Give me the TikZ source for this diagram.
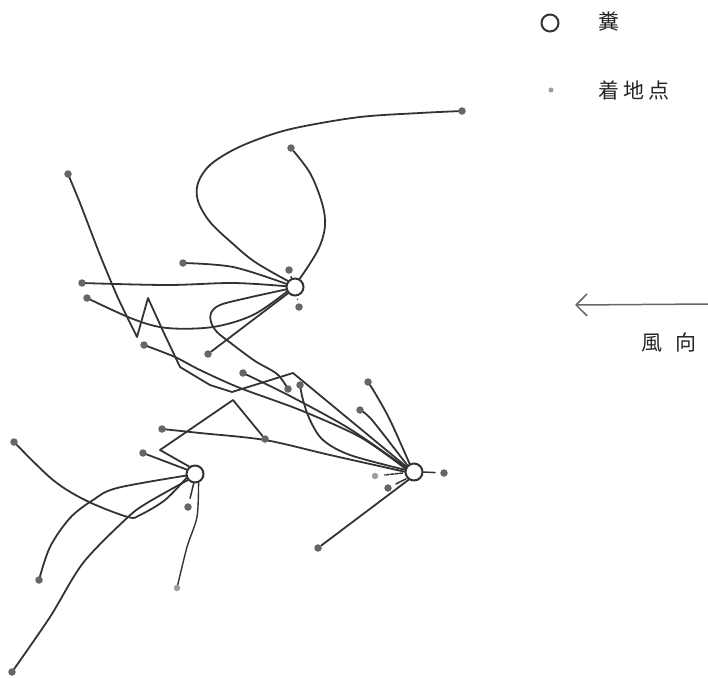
\documentclass[tikz,border=0pt]{standalone}
\usepackage{fontspec}
\newfontfamily\jp{Noto Sans CJK JP}
\usetikzlibrary{arrows.meta}
\pgfdeclarelayer{bg}
\pgfsetlayers{bg,main}
\definecolor{ink}{gray}{0.2}
\definecolor{dotgray}{gray}{0.4}
\definecolor{lightdot}{gray}{0.62}
\begin{document}
\begin{tikzpicture}[x=1pt,y=-1pt,
  dung/.style={circle, draw=ink, line width=2pt, minimum size=17pt, inner sep=0pt, fill=white},
  land/.style={circle, fill=dotgray, minimum size=7.5pt, inner sep=0pt},
  lightland/.style={circle, fill=lightdot, minimum size=6.5pt, inner sep=0pt},
  trackline/.style={draw=ink, line width=1.8pt, line cap=round, line join=round},
  stub/.style={draw=ink, line width=1.5pt, line cap=round},
  label/.style={font=\jp\fontsize{21pt}{21pt}\selectfont, text=black!85, inner sep=0pt},
  windarrow/.style={draw=black!60, line width=1.5pt, -{Straight Barb[length=11pt,width=22pt,line width=1.5pt]}}
]
\useasboundingbox (0,0) rectangle (708,677);

% dung circles
\node[dung] (c1) at (295,287) {};
\node[dung] (c2) at (195,474) {};
\node[dung] (c3) at (414,472) {};

% landing points
\node[land] (d1) at (462,111) {};
\node[land] (d2) at (291,148) {};
\node[land] (d3) at (183,263) {};
\node[land] (d4) at (82,283) {};
\node[land] (d5) at (87,298) {};
\node[land] (d6) at (288,389) {};
\node[land] (d7) at (208,354) {};
\node[land] (d8) at (289,270) {};
\node[land] (d9) at (299,307) {};
\node[land] (d10) at (68,174) {};
\node[land] (d11) at (144,345) {};
\node[land] (d12) at (243,373) {};
\node[land] (d13) at (300,385) {};
\node[land] (d14) at (368,382) {};
\node[land] (d15) at (360,410) {};
\node[land] (d16) at (318,548) {};
\node[land] (d17) at (444,473) {};
\node[lightland] (d18) at (375,476) {};
\node[land] (d19) at (388,488) {};
\node[land] (d20) at (265,439) {};
\node[land] (d21) at (162,429) {};
\node[land] (d22) at (143,453) {};
\node[land] (d23) at (14,442) {};
\node[land] (d24) at (39,580) {};
\node[land] (d25) at (12,672) {};
\node[lightland] (d26) at (177,588) {};
\node[land] (d27) at (188,507) {};

\begin{pgfonlayer}{bg}
% paths from c1
\draw[trackline] plot[smooth, tension=0.55] coordinates {(c1.140) (255,262) (232,243) (210,222) (198,201) (198,183) (210,165) (235,149) (267,136) (300,127) (360,117) (420,113) (d1)};
\draw[trackline] plot[smooth, tension=0.55] coordinates {(d2) (310,173) (322,203) (325,226) (318,250) (c1.60)};
\draw[trackline] plot[smooth, tension=0.55] coordinates {(d3) (233,267) (c1.160)};
\draw[trackline] plot[smooth, tension=0.55] coordinates {(d4) (167,285) (233,283) (c1.175)};
\draw[trackline] plot[smooth, tension=0.55] coordinates {(d5) (133,319) (167,328) (213,327) (253,315) (c1.210)};
\draw[trackline] plot[smooth, tension=0.55] coordinates {(c1.195) (247,298) (220,305) (211,313) (211,322) (217,332) (232,344) (255,361) (277,374) (d6)};
\draw[trackline] (c1.222) -- (d7);
\draw[stub, shorten >=3pt] (c1.112) -- (d8);
\draw[stub, shorten <=3pt, shorten >=4pt] (c1.282) -- (d9);

% paths to c3
\draw[trackline] plot[smooth, tension=0.35] coordinates {(d10) (80,203) (100,255) (118,298) (137,337)} -- (148,298) -- (163,331) -- (180,367) -- (210,385) -- (232,392) -- (293,373) -- (c3.145);
\draw[trackline] plot[smooth, tension=0.5] coordinates {(d11) (175,357) (200,370) (240,388) (300,410) (360,437) (c3.158)};
\draw[trackline] plot[smooth, tension=0.5] coordinates {(d12) (290,396) (350,429) (c3.152)};
\draw[trackline] plot[smooth, tension=0.55] coordinates {(d13) (303,400) (310,420) (323,440) (350,455) (c3.166)};
\draw[trackline] plot[smooth, tension=0.5] coordinates {(d21) (200,433) (265,440) (330,455) (c3.178)};
\draw[trackline] plot[smooth, tension=0.5] coordinates {(d14) (375,393) (390,420) (c3.118)};
\draw[trackline] plot[smooth, tension=0.5] coordinates {(d15) (372,420) (c3.135)};
\draw[trackline] (c3.235) -- (d16);
\draw[stub, shorten >=5pt] (c3.0) -- (d17);
\draw[stub, dashed, dash pattern=on 3pt off 1.5pt, shorten <=2pt, shorten >=6pt] (c3.185) -- (d18);
\draw[stub, shorten <=1pt, shorten >=5pt] (c3.222) -- (d19);

% paths from c2
\draw[trackline] (c2.128) -- (160,450) -- (233,400) -- (d20);
\draw[trackline] (d22) -- (c2.152);
\draw[trackline] plot[smooth, tension=0.55] coordinates {(c2.205) (165,500) (140,515) (128,517) (87,501) (53,480) (d23)};
\draw[trackline] plot[smooth, tension=0.55] coordinates {(c2.190) (117,488) (93,500) (70,518) (50,547) (d24)};
\draw[trackline] plot[smooth, tension=0.5] coordinates {(c2.220) (147,503) (127,518) (83,563) (50,617) (d25)};
\draw[trackline, line width=1.4pt] plot[smooth, tension=0.5] coordinates {(c2.292) (197,517) (187,547) (d26)};
\draw[stub, shorten >=5pt] (c2.262) -- (d27);
\end{pgfonlayer}

% legend
\node[dung] (kd) at (550,23) {};
\node[label] (kt) at (609,22) {糞};
\node[lightland, minimum size=5pt] (kl) at (551,90) {};
\node[label] (klt) at (634,90) {着\hspace{4pt}地\hspace{4pt}点};

% wind direction
\coordinate (wR) at (708,304);
\coordinate (wL) at (575,305);
\draw[windarrow] (wR) -- (wL);
\node[label] (wt) at (669,343) {風\hspace{14pt}向};
\end{tikzpicture}
\end{document}
